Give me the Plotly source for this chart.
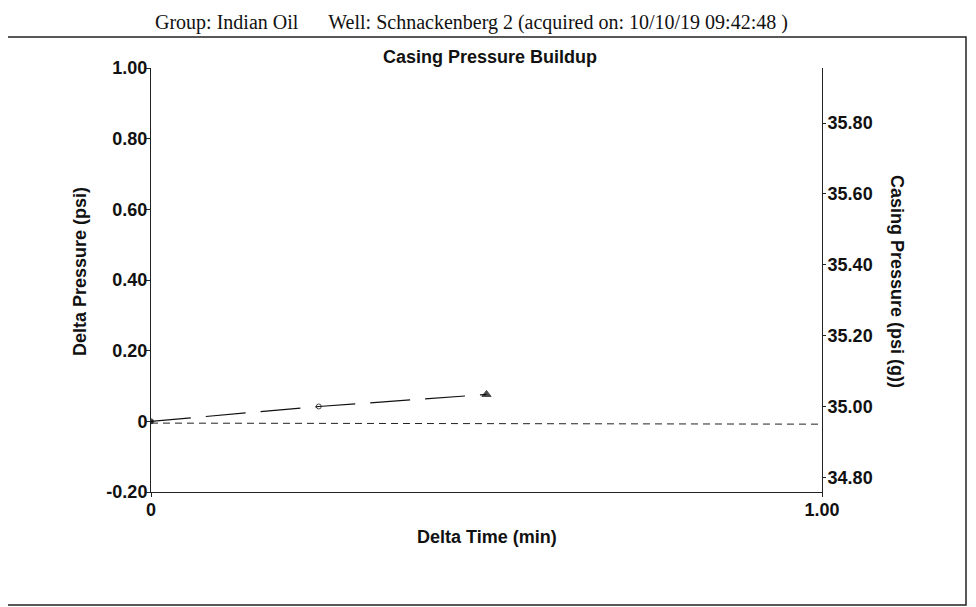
import plotly.graph_objects as go

# Data
delta_time = [0, 0.25, 0.50]
delta_pressure = [0, 0.042, 0.076]
marker_symbols = ["circle", "circle-open", "triangle-up"]
baseline_x = [0, 1.0]
baseline_y = [-0.005, -0.008]

left_ticks = [-0.2, 0, 0.2, 0.4, 0.6, 0.8, 1.0]
left_labels = ["-0.20", "0", "0.20", "0.40", "0.60", "0.80", "1.00"]
right_ticks = [34.8, 35.0, 35.2, 35.4, 35.6, 35.8]
right_labels = ["34.80", "35.00", "35.20", "35.40", "35.60", "35.80"]
x_ticks = [0, 1.0]
x_labels = ["0", "1.00"]

OFF = 8  # page body margin
W, H = 976, 607
L = 151 - OFF
T = 68 - OFF
R = W - (822 - OFF)
B = H - (492 - OFF)
pw, ph = W - L - R, H - T - B

def px(x):
    return (x - OFF - L) / pw

def py(y):
    return (H - B - (y - OFF)) / ph

fig = go.Figure()
fig.add_trace(go.Scatter(
    x=baseline_x, y=baseline_y, mode="lines",
    line=dict(color="#222", width=1, dash="7px,5px"),
    hoverinfo="skip", showlegend=False))
fig.add_trace(go.Scatter(
    x=delta_time, y=delta_pressure, mode="lines+markers",
    line=dict(color="#111", width=1.2, dash="40px,15px"),
    marker=dict(symbol=marker_symbols, size=[5, 5, 8], color="#000",
                line=dict(color="#000", width=1)),
    showlegend=False))
# invisible trace for right axis
fig.add_trace(go.Scatter(x=[0], y=[35.0], yaxis="y2", mode="markers",
                         marker=dict(opacity=0), hoverinfo="skip", showlegend=False))

tickfont = dict(family="Liberation Sans", size=18, color="#111", weight="bold")
fig.update_layout(
    width=W, height=H,
    margin=dict(l=L, r=R, t=T, b=B),
    paper_bgcolor="white", plot_bgcolor="white",
    xaxis=dict(range=[0, 1.0], tickvals=x_ticks, ticktext=x_labels,
               showgrid=False, zeroline=False, showline=True, linecolor="#222",
               linewidth=1, ticks="outside", ticklen=4, tickcolor="#222",
               ticklabelstandoff=-3, tickfont=tickfont),
    yaxis=dict(range=[-0.2, 1.0], tickvals=left_ticks, ticktext=left_labels,
               showgrid=False, zeroline=False, showline=True, linecolor="#222",
               linewidth=1, ticks="outside", ticklen=4, tickcolor="#222",
               ticklabelstandoff=-5, tickfont=tickfont),
    yaxis2=dict(range=[34.76, 35.955], overlaying="y", side="right",
                tickvals=right_ticks, ticktext=right_labels,
                showgrid=False, zeroline=False, showline=True, linecolor="#222",
                linewidth=1, ticks="outside", ticklen=3, tickcolor="#222",
                ticklabelstandoff=-2, tickfont=tickfont),
)

shapes = [
    dict(type="rect", xref="paper", yref="paper",
         x0=px(6), x1=px(966), y0=py(605), y1=py(37),
         line=dict(color="#222", width=1.5), fillcolor="rgba(0,0,0,0)"),
]
fig.update_layout(shapes=shapes)

bold = dict(family="Liberation Sans", size=18, color="#111", weight="bold")
common = dict(xref="paper", yref="paper", showarrow=False,
              xanchor="center", yanchor="middle")
annotations = [
    dict(text="Group: Indian Oil" + "&nbsp;" * 6 + "Well: Schnackenberg 2 (acquired on: 10/10/19 09:42:48 )",
         x=px(471), y=py(22),
         font=dict(family="Liberation Serif", size=20, color="#111"), **common),
    dict(text="Casing Pressure Buildup", x=px(490), y=py(57), font=bold, **common),
    dict(text="Delta Pressure (psi)", x=px(80), y=py(272), textangle=-90, font=bold, **common),
    dict(text="Casing Pressure (psi (g))", x=px(897), y=py(281), textangle=90, font=bold, **common),
    dict(text="Delta Time (min)", x=px(487), y=py(537), font=bold, **common),
]
fig.update_layout(annotations=annotations)

fig.write_html("out.html")
